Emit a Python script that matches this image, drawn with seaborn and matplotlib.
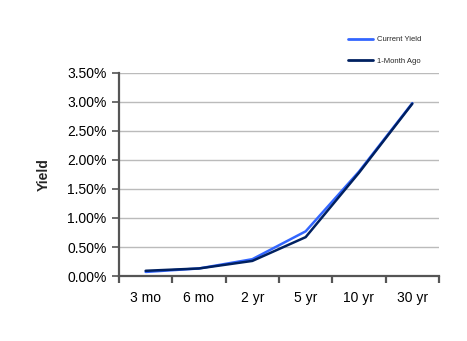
import matplotlib
matplotlib.use("Agg")
import matplotlib.pyplot as plt
import seaborn as sns
import pandas as pd
from matplotlib.ticker import FuncFormatter, FixedLocator

categories = ["3 mo", "6 mo", "2 yr", "5 yr", "10 yr", "30 yr"]
current_yield = [0.07, 0.13, 0.29, 0.77, 1.80, 2.98]
month_ago = [0.09, 0.13, 0.26, 0.67, 1.78, 2.97]
series_names = ["Current Yield", "1-Month Ago"]
y_ticks = [0.0, 0.5, 1.0, 1.5, 2.0, 2.5, 3.0, 3.5]

sns.set_theme(style="white")
plt.rcParams['font.family'] = ['Liberation Sans', 'DejaVu Sans']

df = pd.DataFrame({
    "Maturity": categories * 2,
    "Yield": current_yield + month_ago,
    "Series": [series_names[0]] * len(categories) + [series_names[1]] * len(categories),
})

fig = plt.figure(figsize=(4.67, 3.41), dpi=100)
ax = fig.add_axes([0.2548, 0.1906, 0.6852, 0.5954])

sns.lineplot(data=df, x="Maturity", y="Yield", hue="Series", sort=False,
             palette={series_names[0]: "#3366FF", series_names[1]: "#002060"},
             linewidth=1.8, ax=ax, legend=True)

ax.set_xlim(-0.5, len(categories) - 0.5)
ax.set_ylim(0, 3.5)
ax.yaxis.set_major_locator(FixedLocator(y_ticks))
ax.yaxis.set_major_formatter(FuncFormatter(lambda v, p: f"{v:.2f}%"))
ax.grid(axis="y", color="#BBBBBB", linewidth=1)
ax.set_axisbelow(True)

for s in ["top", "right"]:
    ax.spines[s].set_visible(False)
for s in ["left", "bottom"]:
    ax.spines[s].set_color("#555555")
    ax.spines[s].set_linewidth(1.6)

ax.set_xticks(range(len(categories)))
ax.set_xticklabels(categories)
ax.set_xticks([i - 0.5 for i in range(len(categories) + 1)], minor=True)
ax.tick_params(axis="x", which="major", length=0, labelsize=10, pad=11, colors="#000000")
ax.tick_params(axis="x", which="minor", length=5, width=1.6, color="#555555", direction="out", bottom=True)
ax.tick_params(axis="y", which="major", length=5, width=1.2, color="#555555", direction="out", left=True,
               labelsize=10, pad=4, labelcolor="#000000")

ax.set_xlabel("")
ax.set_ylabel("Yield", fontsize=10, fontweight="bold", labelpad=12)

leg = ax.legend(loc="upper left", bbox_to_anchor=(341 / 467, 1 - 29 / 341),
                bbox_transform=fig.transFigure, frameon=False, fontsize=5.5,
                handlelength=3.3, labelspacing=1.9, handletextpad=0.5)
for line in leg.get_lines():
    line.set_linewidth(2)

fig.savefig("out.png", dpi=100)
